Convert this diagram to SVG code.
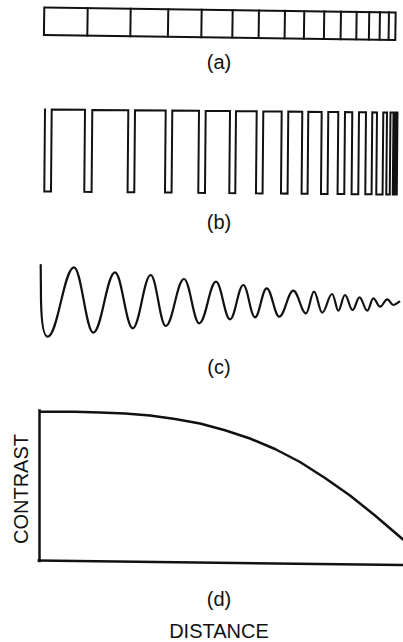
<svg xmlns="http://www.w3.org/2000/svg" width="403" height="642" viewBox="0 0 403 642">
<style>
.ln{fill:none;stroke:#111;stroke-width:2;stroke-linecap:square;stroke-linejoin:miter}
.wv{fill:none;stroke:#111;stroke-width:2.2;stroke-linecap:round;stroke-linejoin:round}
.lb{font-family:"Liberation Sans",Arial,sans-serif;font-size:20px;fill:#111;text-anchor:middle}
</style>
<rect width="403" height="642" fill="#fff"/>
<g id="panel-a" transform="rotate(0.8 44.3 7.5)">
<rect class="ln" x="44.3" y="7.5" width="351.4" height="27.5"/>
<path class="ln" d="M87.7,7.5V35M130.7,7.5V35M168.3,7.5V35M201.7,7.5V35M232.7,7.5V35M259,7.5V35M285,7.5V35M304.3,7.5V35M324.3,7.5V35M341,7.5V35M356.7,7.5V35M369.3,7.5V35M380,7.5V35M389,7.5V35"/>
</g>
<text id="label-a" class="lb" x="219" y="69">(a)</text>
<g id="panel-b" transform="rotate(0.5 45 109.5)">
<path class="ln" d="M45,109.5V191.5H51.7V109.5H85V191.5H92.3V109.5H128.3V191.5H135V109.5H165.7V191.5H172.3V109.5H199V191.5H205.7V109.5H230V191.5H236V109.5H256.7V191.5H263.3V109.5H281.7V191.5H288.3V109.5H302.3V191.5H308.3V109.5H321.7V191.5H328.3V109.5H338.3V191.5H345V109.5H352.3V191.5H359V109.5H366V191.5H372.3V109.5H377V191.5H383.3V109.5H387V191.5H390.5V109.5H393.5V191.5H395.5V109.5H397.5V191.5"/>
</g>
<text id="label-b" class="lb" x="219" y="229">(b)</text>
<g id="panel-c">
<path class="wv" d="M40.7,265L41,300C41.5,325 44,336.7 47.7,336.7C57.7,336.7 64,267.3 74,267.3C81.3,267.3 86,332.7 93.3,332.7C101.6,332.7 106.8,272.3 115,272.3C121.7,272.3 126,328.3 132.7,328.3C139.5,328.3 143.9,275 150.7,275C156.4,275 160,326 165.7,326C172.7,326 177,279 184,279C189.8,279 193.5,323.3 199.3,323.3C205.7,323.3 209.7,281.7 216,281.7C221.3,281.7 224.7,319.3 230,319.3C235.1,319.3 238.3,285 243.3,285C247.7,285 250.6,317.3 255,317.3C259.4,317.3 262.2,288.3 266.7,288.3C271.5,288.3 274.5,316.7 279.3,316.7C284.6,316.7 288,290.7 293.3,290.7C298.1,290.7 301.2,313.3 306,313.3C309,313.3 311,291.7 314,291.7C317.2,291.7 319.1,312.7 322.2,312.7C325.9,312.7 328.4,294 332,294C334.6,294 336.1,310.7 338.3,310.7C340.8,310.7 342.4,295 345,295C347.8,295 349.7,310 352.5,310C355.3,310 356.8,297.3 359.5,297.3C362.5,297.3 364.3,310.7 367.3,310.7C369.6,310.7 371,298.3 373.3,298.3C375.9,298.3 377.5,306.7 380,306.7C382.8,306.7 384.5,299.3 387.3,299.3C389.6,299.3 391,305 393.3,305C395.5,305 397.5,302.5 399.3,301.7"/>
</g>
<text id="label-c" class="lb" x="219" y="374">(c)</text>
<g id="panel-d">
<path class="ln" style="stroke-width:2.5" d="M39.5,410.5V561"/>
<path class="ln" style="stroke-width:2.5;stroke-linecap:butt" d="M37.5,560.5L403,565"/>
<polyline class="wv" style="stroke-width:2.5" points="40.5,411.7 75,411.8 100,412.4 125,413.6 150,415.5 175,419 200,423.5 225,430.3 250,438.5 275,449 300,462 325,478 350,495.5 375,515.5 403,539.5"/>
</g>
<text id="label-d" class="lb" x="219" y="606">(d)</text>
<text id="y-axis-label" class="lb" transform="translate(28.3 489) rotate(-90)">CONTRAST</text>
<text id="x-axis-label" class="lb" x="219" y="638">DISTANCE</text>
</svg>
